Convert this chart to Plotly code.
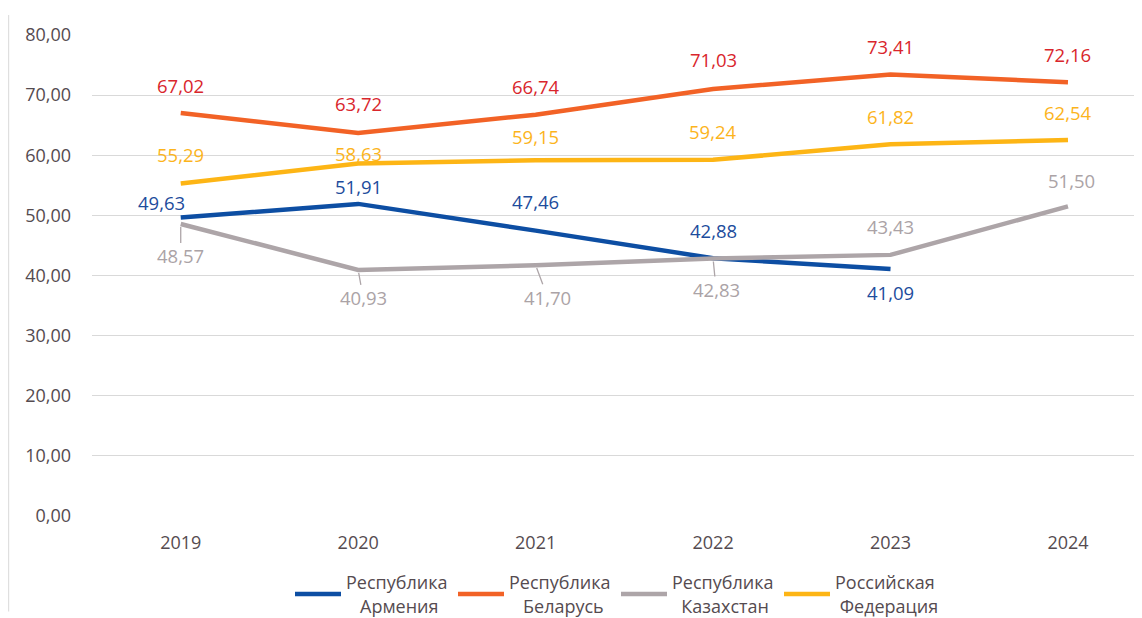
import plotly.graph_objects as go

years = ["2019", "2020", "2021", "2022", "2023", "2024"]
armenia = [49.63, 51.91, 47.46, 42.88, 41.09, None]
belarus = [67.02, 63.72, 66.74, 71.03, 73.41, 72.16]
kazakhstan = [48.57, 40.93, 41.70, 42.83, 43.43, 51.50]
russia = [55.29, 58.63, 59.15, 59.24, 61.82, 62.54]
y_ticks = [0, 10, 20, 30, 40, 50, 60, 70, 80]
y_tick_labels = ["0,00", "10,00", "20,00", "30,00", "40,00", "50,00", "60,00", "70,00", "80,00"]

names = ["Республика<br>\u00a0\u00a0\u00a0Армения",
         "Республика<br>\u00a0\u00a0\u00a0Беларусь",
         "Республика<br>\u00a0\u00a0Казахстан",
         "Российская<br>\u00a0Федерация"]

line_colors = ["#0D4EA3", "#F26226", "#ADA5A8", "#FDB515"]
label_colors = ["#1D4C9C", "#D9262C", "#ABA3A6", "#FCB41C"]

# label offsets in pixels (dx right, dy down) and whether a leader line is drawn
offsets = {
    0: [(-19, -15, False), (0, -17, False), (0, -29, False), (0, -28, False), (0, 24, False), None],
    1: [(0, -28, False), (0, -29, False), (0, -28, False), (0, -29, False), (0, -28, False), (0, -28, False)],
    2: [(0, 32, True), (5, 28, True), (12, 32, True), (3, 31, True), (0, -28, False), (4, -26, False)],
    3: [(0, -29, False), (0, -10, False), (0, -24, False), (0, -28, False), (0, -28, False), (0, -27, False)],
}

series = [armenia, belarus, kazakhstan, russia]
FONT = "Open Sans"
TXT = "#554B50"
FS = 18.5

fig = go.Figure()
for i, vals in enumerate(series):
    fig.add_trace(go.Scatter(
        x=years, y=vals, mode="lines", name=names[i],
        line=dict(color=line_colors[i], width=4.5),
        hoverinfo="skip",
    ))

annotations = []
for i, vals in enumerate(series):
    for j, v in enumerate(vals):
        if v is None or offsets[i][j] is None:
            continue
        dx, dy, leader = offsets[i][j]
        txt = f"{v:.2f}".replace(".", ",")
        if leader:
            annotations.append(dict(
                x=j, y=v, xref="x", yref="y", text=txt,
                showarrow=True, ax=dx, ay=dy, axref="pixel", ayref="pixel",
                arrowhead=0, arrowwidth=1.3, arrowcolor="#ADA5A8", standoff=3,
                font=dict(family=FONT, size=FS, color=label_colors[i]),
                borderpad=0,
            ))
        else:
            annotations.append(dict(
                x=j, y=v, xref="x", yref="y", text=txt,
                showarrow=False, xshift=dx, yshift=-dy,
                font=dict(family=FONT, size=FS, color=label_colors[i]),
            ))

# page body has an 8px margin, so the figure is sized/positioned relative to it
OFF = 8
W, H = 1142 - OFF, 618 - OFF
L, T = 92.3 - OFF, 35 - OFF
plot_bottom = 516.4 - OFF
B = H - plot_bottom
pw = W - L
ph = plot_bottom - T

fig.update_layout(
    width=W, height=H,
    margin=dict(l=L, r=0, t=T, b=B, pad=0, autoexpand=False),
    paper_bgcolor="white", plot_bgcolor="white",
    font=dict(family=FONT, size=18, color=TXT),
    showlegend=True,
    legend=dict(
        orientation="h", xref="container", yref="container",
        x=(290 - OFF) / W, xanchor="left",
        y=1 - (594 - OFF) / H, yanchor="middle",
        font=dict(family=FONT, size=18, color=TXT),
        entrywidth=102, entrywidthmode="pixels",
        itemwidth=46, tracegroupgap=0, bgcolor="rgba(0,0,0,0)",
    ),
    annotations=annotations,
    shapes=[dict(type="line", xref="paper", yref="paper",
                 x0=(9 - OFF - L) / pw, x1=(9 - OFF - L) / pw,
                 y0=-(612 - OFF - plot_bottom) / ph, y1=(plot_bottom - (15 - OFF)) / ph,
                 line=dict(color="#D9D9D9", width=1))],
)
fig.update_xaxes(
    type="category", range=[-0.5, pw / 177.4 - 0.5],
    showgrid=False, showline=False, zeroline=False,
    ticks="", ticklabelstandoff=14,
    tickfont=dict(family=FONT, size=18, color=TXT),
)
fig.update_yaxes(
    range=[0, 80], tickvals=y_ticks, ticktext=y_tick_labels,
    showgrid=True, gridcolor="#D9D9D9", gridwidth=1.3,
    zeroline=False, showline=False, ticks="", ticklabelstandoff=20,
    tickfont=dict(family=FONT, size=18, color=TXT),
)

fig.write_html("out.html")
